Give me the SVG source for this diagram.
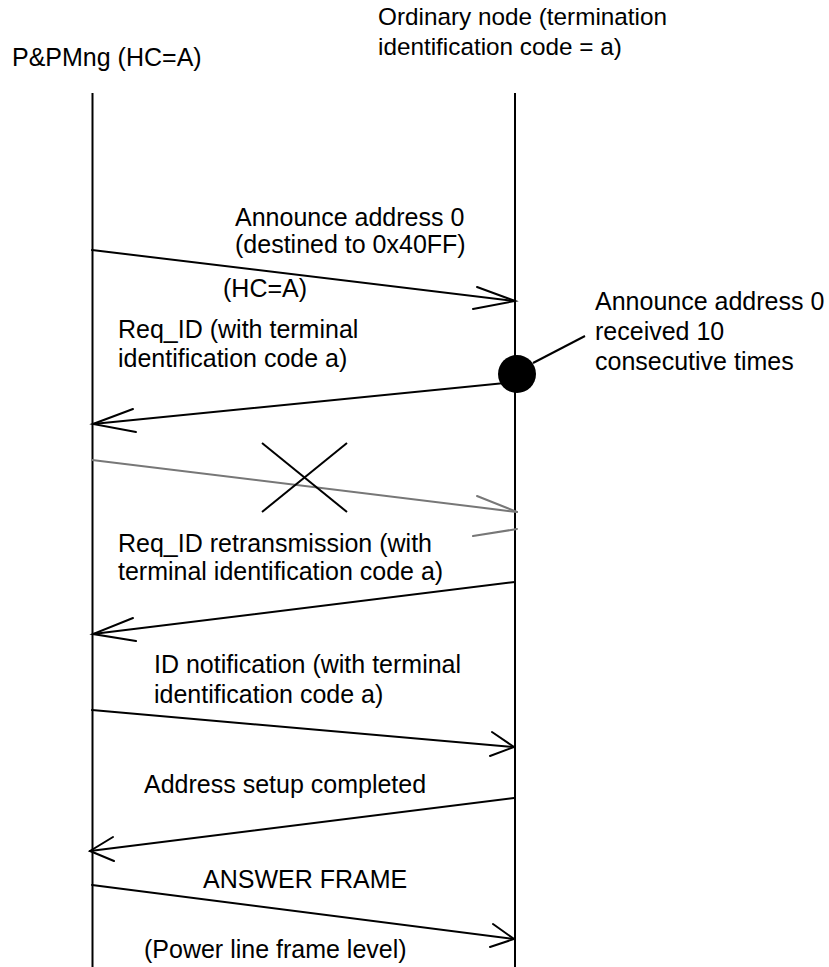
<svg xmlns="http://www.w3.org/2000/svg" width="829" height="967" viewBox="0 0 829 967">
  <style>
    text { font-family: "Liberation Sans", Arial, sans-serif; font-size: 25px; fill: #000; }
    text.head { font-size: 24.3px; }
    .life { stroke: #000; stroke-width: 2; fill: none; }
    .msg { stroke: #000; stroke-width: 2; fill: none; stroke-linecap: round; }
    .lost { stroke: #777; stroke-width: 2; fill: none; stroke-linecap: round; }
    .mark { stroke: #000; stroke-width: 2; fill: none; }
  </style>
  <rect width="829" height="967" fill="#fff"/>

  <!-- Lifeline: P&P manager -->
  <g id="node-ppmng">
    <text x="12" y="66">P&amp;PMng (HC=A)</text>
    <line class="life" x1="92.5" y1="93" x2="92.5" y2="967"/>
  </g>

  <!-- Lifeline: ordinary node -->
  <g id="node-ordinary">
    <text class="head" x="378" y="25">Ordinary node (termination</text>
    <text class="head" x="378" y="55">identification code = a)</text>
    <line class="life" x1="515" y1="93" x2="515" y2="967"/>
  </g>

  <!-- Reception event on the ordinary node -->
  <g id="node-received">
    <circle cx="517" cy="374" r="19" fill="#000"/>
    <line class="mark" x1="533" y1="363" x2="585" y2="336"/>
    <text x="595" y="310">Announce address 0</text>
    <text x="595" y="340">received 10</text>
    <text x="595" y="370">consecutive times</text>
  </g>

  <g id="connectors">
    <!-- Announce address 0 -->
    <line class="msg" x1="92" y1="250" x2="515" y2="301"/>
    <polyline class="msg" points="477,287 515,301 473,309"/>
    <text x="235" y="226">Announce address 0</text>
    <text x="235" y="253">(destined to 0x40FF)</text>
    <text x="223" y="297">(HC=A)</text>

    <!-- Req_ID -->
    <line class="msg" x1="515" y1="382" x2="93" y2="424"/>
    <polyline class="msg" points="133,409 93,424 136,432"/>
    <text x="118" y="338">Req_ID (with terminal</text>
    <text x="118" y="367">identification code a)</text>

    <!-- Lost frame -->
    <line class="lost" x1="92" y1="460" x2="517" y2="512"/>
    <line class="lost" x1="477" y1="496" x2="517" y2="512"/>
    <line class="lost" x1="473" y1="536" x2="517" y2="529"/>
    <line class="mark" x1="262" y1="443" x2="347" y2="512"/>
    <line class="mark" x1="347" y1="443" x2="262" y2="512"/>

    <!-- Req_ID retransmission -->
    <line class="msg" x1="515" y1="582" x2="93" y2="634"/>
    <polyline class="msg" points="133,618 93,634 136,641"/>
    <text x="118" y="552">Req_ID retransmission (with</text>
    <text x="118" y="580">terminal identification code a)</text>

    <!-- ID notification -->
    <line class="msg" x1="92" y1="710" x2="514" y2="747"/>
    <polyline class="msg" points="492,732 514,747 490,756"/>
    <text x="154" y="673">ID notification (with terminal</text>
    <text x="154" y="703">identification code a)</text>

    <!-- Address setup completed -->
    <line class="msg" x1="514" y1="798" x2="90" y2="851"/>
    <polyline class="msg" points="113,837 90,851 114,861"/>
    <text x="144" y="793">Address setup completed</text>

    <!-- ANSWER FRAME -->
    <line class="msg" x1="92" y1="885" x2="514" y2="939"/>
    <polyline class="msg" points="493,924 514,939 490,947"/>
    <text x="203" y="888">ANSWER FRAME</text>
    <text x="144" y="958">(Power line frame level)</text>
  </g>
</svg>
